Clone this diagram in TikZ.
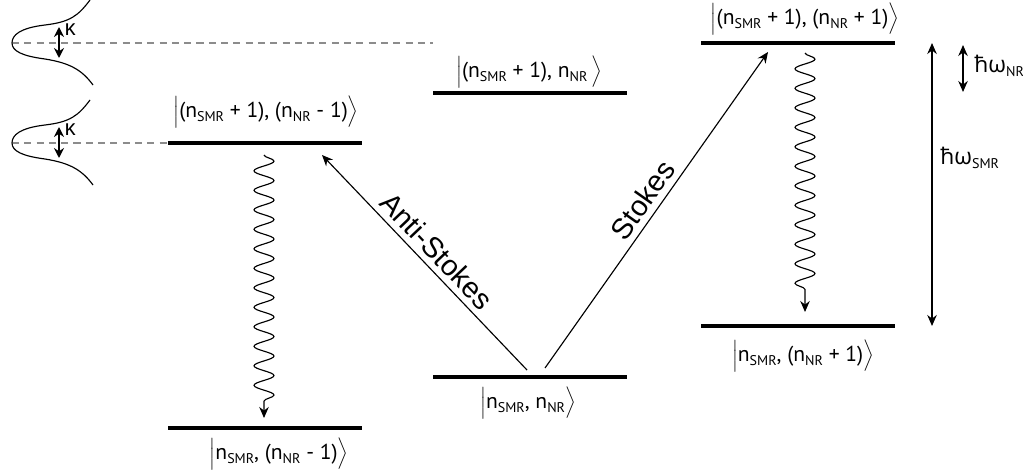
\documentclass[tikz,border=0pt]{standalone}
\usepackage{fontspec}
\setmainfont{Liberation Sans}
\newfontfamily\lblfont{PT Sans}
\newfontfamily\grkfont{Open Sans}
\usetikzlibrary{arrows.meta, decorations.pathmorphing}
\definecolor{GuideGray}{rgb}{0.55, 0.55, 0.55}
\newcommand{\lo}[1]{\raisebox{-0.4ex}{\fontsize{8}{9}\selectfont #1}}
\newcommand{\kt}[1]{$\Bigl|$#1$\Bigr\rangle$}

\begin{document}
\begin{tikzpicture}[x=0.02cm, y=-0.02cm,
    nivel/.style={line width=2.8pt},
    flecha/.style={line width=0.65pt, -{Stealth[length=0.22cm, width=0.19cm]}},
    doble/.style={line width=0.65pt, {Stealth[length=0.22cm, width=0.19cm]}-{Stealth[length=0.22cm, width=0.19cm]}},
    onda/.style={line width=0.65pt, -{Stealth[length=0.22cm, width=0.19cm]}, decorate,
        decoration={snake, segment length=0.39cm, amplitude=0.2cm, post length=0.3cm}},
    guia/.style={GuideGray, line width=0.6pt, dash pattern=on 4pt off 3pt},
    estado/.style={font=\lblfont\fontsize{12.3}{14}\selectfont, inner sep=0pt}]

\useasboundingbox (0,0) rectangle (1023,473);

% niveles
\foreach \n/\xa/\y in {su/168/143, sl/168/428, mu/433/93, ml/433/377, ru/701/43, rl/701/326}{
    \draw[nivel] (\xa,\y) coordinate (\n w) -- ++(194,0) coordinate (\n e);
}

% estados
\node[estado] (ksu) at (266,112) {\kt{(n\lo{SMR} + 1), (n\lo{NR} - 1)}};
\node[estado] (ksl) at (279,454) {\kt{n\lo{SMR}, (n\lo{NR} - 1)}};
\node[estado] (kmu) at (529,72) {\kt{(n\lo{SMR} + 1), n\lo{NR}\,}};
\node[estado] (kml) at (528,403) {\kt{n\lo{SMR}, n\lo{NR}}};
\node[estado] (kru) at (805,19) {\kt{(n\lo{SMR} + 1), (n\lo{NR} + 1)}};
\node[estado] (krl) at (803,356) {\kt{n\lo{SMR}, (n\lo{NR} + 1)}};

% lineas guia y lorentzianas
\draw[guia] (12,43) -- (muw |- ruw);
\draw[guia] (12,143) -- (suw);
\foreach \ly in {43,143}{
    \draw[line width=0.65pt] (90,\ly-43) .. controls (78,\ly-27) and (70,\ly-21) .. (45,\ly-18)
        .. controls (20,\ly-15) and (12,\ly-8) .. (12,\ly)
        .. controls (12,\ly+8) and (22,\ly+13) .. (45,\ly+16)
        .. controls (70,\ly+20) and (82,\ly+27) .. (93,\ly+42);
    \draw[line width=1pt, {Stealth[length=0.2cm, width=0.2cm]}-{Stealth[length=0.2cm, width=0.2cm]}]
        (59,\ly-16) -- (59,\ly+15);
    \node[font=\grkfont\fontsize{12.5}{14}\selectfont, anchor=west, inner sep=0pt] at (64,\ly-13) {κ};
}

% transiciones
\coordinate (as0) at (527,370);
\coordinate (as1) at (322,155);
\coordinate (st0) at (545,368);
\coordinate (st1) at (768,52);
\draw[flecha] (as0) -- (as1)
    node[midway, rotate=-46.4, anchor=south, font=\fontsize{16.5}{18}\selectfont] (las) {Anti-Stokes};
\draw[flecha] (st0) -- (st1)
    node[midway, rotate=54.8, anchor=south, font=\fontsize{16.5}{18}\selectfont] (lst) {Stokes};

% relajacion
\coordinate (w1a) at (264,155);
\coordinate (w1b) at (264,418);
\coordinate (w2a) at (805,53);
\coordinate (w2b) at (805,312);
\draw[onda] (w1a) -- (w1b);
\draw[onda] (w2a) -- (w2b);

% energias
\coordinate (es0) at (932,43);
\coordinate (es1) at (932,326);
\coordinate (en0) at (963,45);
\coordinate (en1) at (963,92);
\draw[doble] (es0) -- (es1);
\draw[doble] (en0) -- (en1);
\node[anchor=west, inner sep=0pt, font=\lblfont\fontsize{13}{15}\selectfont] (lsmr) at (940,158)
    {{\grkfont ħω}\lo{SMR}};
\node[anchor=west, inner sep=0pt, font=\lblfont\fontsize{13}{15}\selectfont] (lnr) at (974,66)
    {{\grkfont ħω}\lo{NR}};

\end{tikzpicture}
\end{document}
